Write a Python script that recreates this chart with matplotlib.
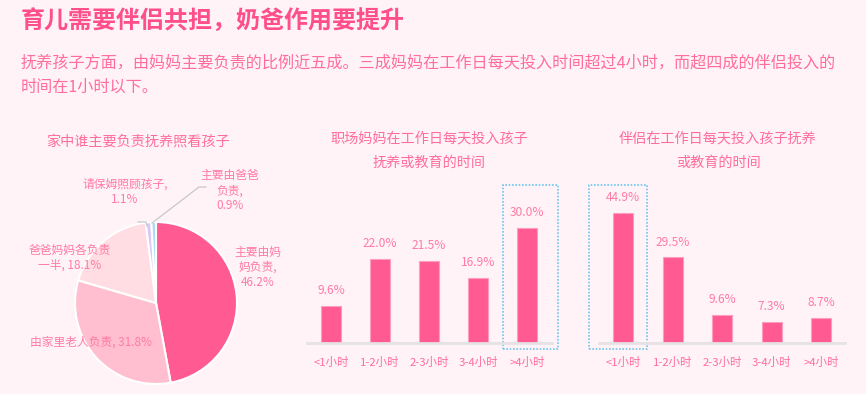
import matplotlib
matplotlib.use("Agg")
from matplotlib import pyplot as plt
from matplotlib.patches import Rectangle

plt.rcParams['font.family'] = ['Noto Sans CJK SC', 'DejaVu Sans']

# data
pie_labels = ["主要由妈\n妈负责,\n46.2%", "由家里老人负责, 31.8%", "爸爸妈妈各负责\n一半, 18.1%",
              "请保姆照顾孩子,\n1.1%", "主要由爸爸\n负责,\n0.9%"]
pie_values = [46.2, 31.8, 18.1, 1.1, 0.9]
pie_colors = ["#ff5a92", "#ffbfd0", "#ffdde2", "#dcc6f6", "#a9dcf2"]

hour_labels = ["<1小时", "1-2小时", "2-3小时", "3-4小时", ">4小时"]
mom_values = [9.6, 22.0, 21.5, 16.9, 30.0]
partner_values = [44.9, 29.5, 9.6, 7.3, 8.7]

BG = "#fff3f7"
PINK = "#ff5a92"
TXT = "#ff6d9c"
LBL = "#ff7ba5"

W, H = 866, 394
fig = plt.figure(figsize=(W / 100, H / 100), dpi=100, facecolor=BG)


def px(x, y):
    return x / W, 1 - y / H


# titles
fig.text(*px(21, 22), "育儿需要伴侣共担，奶爸作用要提升", fontsize=17.3, fontweight='bold',
         color="#ff4f8b", va='center', ha='left')
fig.text(*px(21, 63), "抚养孩子方面，由妈妈主要负责的比例近五成。三成妈妈在工作日每天投入时间超过4小时，而超四成的伴侣投入的",
         fontsize=11.6, color=TXT, va='center', ha='left')
fig.text(*px(21, 87), "时间在1小时以下。", fontsize=11.6, color=TXT, va='center', ha='left')

# ---- pie
cx, cy, r = 156, 303, 81
ax = fig.add_axes([0, 0, 300 / W, 274 / H])
ax.set_facecolor('none')
ax.pie(pie_values, colors=pie_colors, startangle=90, counterclock=False,
       wedgeprops=dict(edgecolor='white', linewidth=1.5))
ax.set_xlim(-cx / r, (300 - cx) / r)
ax.set_ylim((cy - 394) / r, (cy - 120) / r)
ax.set_aspect('auto')
ax.axis('off')

lab_pos = [(258, 267), (91, 342), (70, 258), (125, 192), (230, 191)]
for lab, (lx, ly) in zip(pie_labels, lab_pos):
    ax.text((lx - cx) / r, (cy - ly) / r, lab, fontsize=8.5, color=LBL,
            ha='center', va='center', linespacing=1.2)
# leader lines
ax.plot([(152 - cx) / r, (199 - cx) / r, (206 - cx) / r],
        [(cy - 223) / r, (cy - 187) / r, (cy - 187) / r], color="#c8c8c8", lw=0.9)
ax.plot([(138 - cx) / r, (146 - cx) / r, (147 - cx) / r],
        [(cy - 222) / r, (cy - 222) / r, (cy - 226) / r], color="#c8c8c8", lw=0.9)
fig.text(*px(138, 142), "家中谁主要负责抚养照看孩子", fontsize=10.2, color=TXT, ha='center', va='center')


# ---- bar charts
def bar_panel(left, right, x0, step, scale, values, box_x, title, title_x):
    ax = fig.add_axes([left / W, (H - 343) / H, (right - left) / W, (343 - 185) / H])
    ax.set_facecolor('none')
    xs = range(len(values))
    bars = ax.bar(xs, values, width=20 / step, color=PINK, edgecolor="#ff9dbd", linewidth=0.8)
    for b, v in zip(bars, values):
        ax.annotate(f"{v:.1f}%", (b.get_x() + b.get_width() / 2, v), xytext=(0, 11),
                    textcoords='offset points', ha='center', va='center', fontsize=8.6, color=LBL)
    ax.set_xlim((left - x0) / step, (right - x0) / step)
    ax.set_ylim(0, (343 - 185) / scale)
    for s in ['top', 'right', 'left']:
        ax.spines[s].set_visible(False)
    ax.spines['bottom'].set_color("#e6e2e4")
    ax.spines['bottom'].set_linewidth(2)
    ax.set_yticks([])
    ax.set_xticks(list(xs))
    ax.set_xticklabels(hour_labels, fontsize=8.2, color=TXT)
    ax.tick_params(axis='x', length=0, pad=10)
    bx0, bx1 = box_x
    ax.add_patch(Rectangle(((bx0 - x0) / step, -6 / scale), (bx1 - bx0) / step,
                           (343 - 185 + 6) / scale, fill=False, edgecolor="#6cc6ee",
                           linestyle=(0, (1, 1)), linewidth=1.2, clip_on=False))
    fig.text(*px(title_x, 139), title[0], fontsize=10.2, color=TXT, ha='center', va='center')
    fig.text(*px(title_x, 163), title[1], fontsize=10.2, color=TXT, ha='center', va='center')


bar_panel(307, 552, 331, 49, 3.83, mom_values, (503, 558),
          ("职场妈妈在工作日每天投入孩子", "抚养或教育的时间"), 429)
bar_panel(599, 845, 623, 49.5, 2.9, partner_values, (589, 647),
          ("伴侣在工作日每天投入孩子抚养", "或教育的时间"), 718)

fig.savefig("out.png", dpi=100, facecolor=BG)
